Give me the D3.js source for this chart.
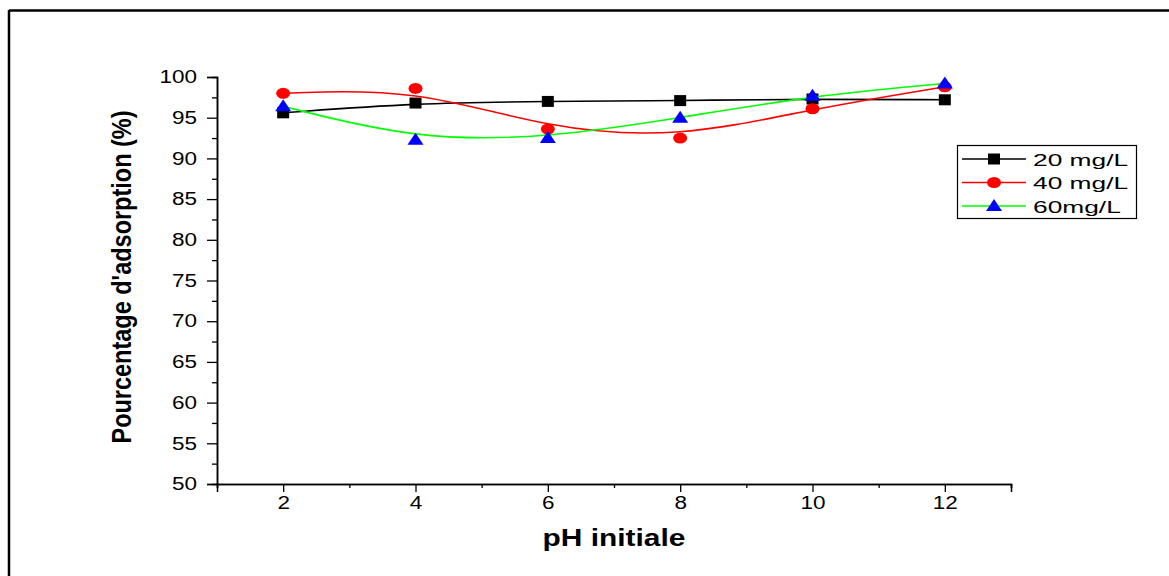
<!DOCTYPE html>
<html><head><meta charset="utf-8">
<script src="https://cdn.jsdelivr.net/npm/d3@7"></script>
<style>body{margin:0;background:#fff}svg{display:block}text{font-family:"Liberation Sans",Arial,sans-serif}</style>
</head><body>
<svg id="c" width="1169" height="576"></svg>
<script>
const phValues = [2, 4, 6, 8, 10, 12];
const series20 = [95.6, 96.8, 97.0, 97.1, 97.3, 97.2];
const series40 = [98.0, 98.6, 93.6, 92.5, 96.1, 98.8];
const series60 = [96.4, 92.3, 92.5, 95.0, 97.7, 99.2];
const seriesNames = ["20 mg/L", "40 mg/L", "60mg/L"];
const xMajorTicks = [2, 4, 6, 8, 10, 12];
const xMinorTicks = [1, 3, 5, 7, 9, 11, 13];
const yMajorTicks = [50, 55, 60, 65, 70, 75, 80, 85, 90, 95, 100];
const yMinorTicks = [52.5, 57.5, 62.5, 67.5, 72.5, 77.5, 82.5, 87.5, 92.5, 97.5];

const SX = 1.25;
const svg = d3.select("#c");
const x = d3.scaleLinear().domain([1, 13]).range([217, 1011]);
const y = d3.scaleLinear().domain([50, 100]).range([484, 77]);

// frame
svg.append("line").attr("x1", 9).attr("x2", 1169).attr("y1", 10.5).attr("y2", 10.5).attr("stroke", "#000").attr("stroke-width", 2.5);
svg.append("line").attr("x1", 9).attr("x2", 9).attr("y1", 10).attr("y2", 576).attr("stroke", "#000").attr("stroke-width", 2.5);

function stretchTicks(g) {
  g.selectAll(".tick text").each(function() {
    const t = d3.select(this);
    const tx = +t.attr("x") || 0;
    const ty = +t.attr("y") || 0;
    t.attr("x", 0).attr("y", 0).attr("transform", `translate(${tx},${ty}) scale(${SX},1)`);
  });
}

// y axis
const gy = svg.append("g").attr("transform", `translate(${x(1)},0)`);
gy.call(d3.axisLeft(y).tickValues(yMajorTicks).tickSize(10).tickPadding(10).tickFormat(d3.format("d")));
gy.append("g").call(d3.axisLeft(y).tickValues(yMinorTicks).tickSize(5).tickFormat(""));
gy.selectAll("path.domain").attr("stroke-width", 1.5);
gy.selectAll(".tick line").attr("stroke-width", 1.3);
gy.selectAll(".tick text").attr("font-size", 18).attr("fill", "#000");
stretchTicks(gy);

// x axis
const gx = svg.append("g").attr("transform", `translate(0,${y(50)})`);
gx.call(d3.axisBottom(x).tickValues(xMajorTicks).tickSize(8).tickPadding(4).tickFormat(d3.format("d")));
gx.append("g").call(d3.axisBottom(x).tickValues(xMinorTicks).tickSize(4).tickFormat(""));
gx.selectAll("path.domain").attr("stroke-width", 1.5);
gx.selectAll(".tick line").attr("stroke-width", 1.3);
gx.selectAll(".tick text").attr("font-size", 18).attr("fill", "#000");
stretchTicks(gx);

// axis titles
svg.append("text").attr("transform", `translate(614,546) scale(1.3,1)`).attr("text-anchor", "middle")
  .attr("font-size", 23).attr("font-weight", "bold").text("pH initiale");
svg.append("text").attr("transform", `translate(131,277) scale(1.2,1) rotate(-90)`).attr("text-anchor", "middle")
  .attr("font-size", 23.5).attr("font-weight", "bold").text("Pourcentage d'adsorption (%)");

const series = [
  {name: seriesNames[0], vals: series20, line: "#000000", fill: "#000000", shape: "square"},
  {name: seriesNames[1], vals: series40, line: "#ff0000", fill: "#ff0000", shape: "circle"},
  {name: seriesNames[2], vals: series60, line: "#00ff00", fill: "#0000ff", shape: "triangle"}
];

function drawMarker(g, shape, cx, cy, fill) {
  if (shape === "square") {
    g.append("rect").attr("x", cx - 6).attr("y", cy - 5.5).attr("width", 12).attr("height", 11).attr("fill", fill);
  } else if (shape === "circle") {
    g.append("ellipse").attr("cx", cx).attr("cy", cy).attr("rx", 7).attr("ry", 5.5).attr("fill", fill);
  } else {
    g.append("path").attr("d", `M${cx},${cy - 7}L${cx + 8},${cy + 5}L${cx - 8},${cy + 5}Z`).attr("fill", fill);
  }
}

const lineGen = d3.line().x((d, i) => x(phValues[i])).y(d => y(d)).curve(d3.curveBasis);
series.forEach(s => {
  const g = svg.append("g");
  g.append("path").attr("d", lineGen(s.vals)).attr("fill", "none").attr("stroke", s.line).attr("stroke-width", 1.6);
  s.vals.forEach((v, i) => drawMarker(g, s.shape, x(phValues[i]), y(v), s.fill));
});

// legend
const lg = svg.append("g");
lg.append("rect").attr("x", 957.5).attr("y", 145.5).attr("width", 179).attr("height", 73).attr("fill", "#fff").attr("stroke", "#000").attr("stroke-width", 1.2);
series.forEach((s, i) => {
  const cy = 159 + i * 23.5;
  lg.append("line").attr("x1", 962).attr("x2", 1026).attr("y1", cy).attr("y2", cy).attr("stroke", s.line).attr("stroke-width", 1.6);
  drawMarker(lg, s.shape, 994, cy, s.fill);
  lg.append("text").attr("transform", `translate(1033,${cy + 6.5}) scale(1.55,1)`).attr("font-size", 17).text(s.name);
});
</script>
</body></html>
